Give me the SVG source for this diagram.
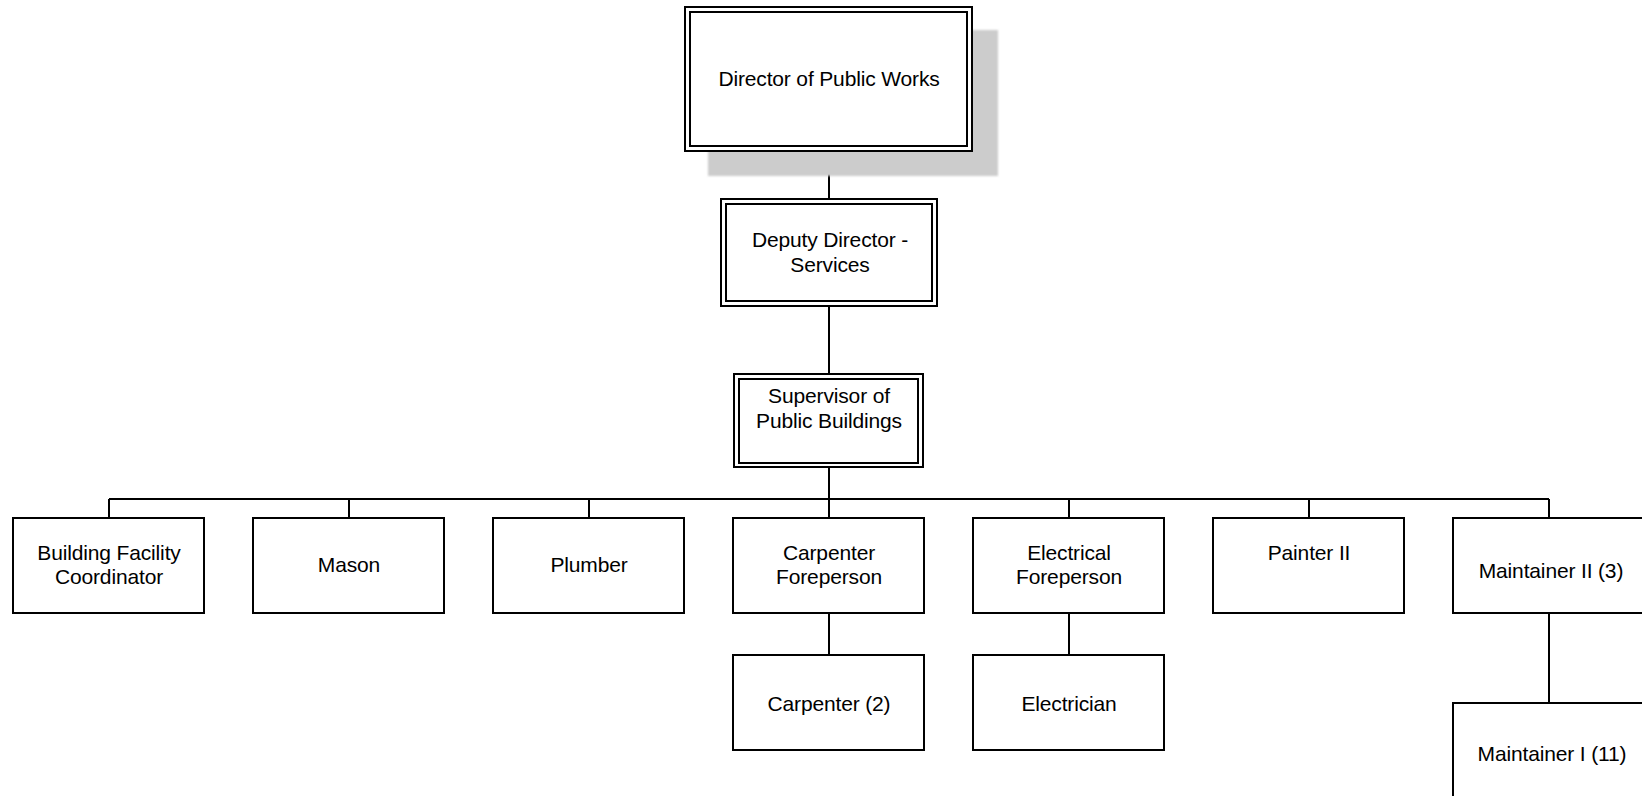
<svg xmlns="http://www.w3.org/2000/svg" width="1642" height="796" viewBox="0 0 1642 796">
  <style>
    .box { fill: #ffffff; stroke: #000000; stroke-width: 2; }
    .link { fill: none; stroke: #000000; stroke-width: 2; }
    .label { font-family: "Liberation Sans", Arial, sans-serif; font-size: 21px; letter-spacing: -0.15px; fill: #000000; text-anchor: middle; }
  </style>
  <defs>
    <filter id="soft" x="-5%" y="-5%" width="110%" height="110%">
      <feGaussianBlur stdDeviation="1.2"/>
    </filter>
  </defs>
  <rect x="0" y="0" width="1642" height="796" fill="#ffffff"/>

  <!-- reporting lines -->
  <g id="connectors">
    <path class="link" d="M829 151 V199"/>
    <path class="link" d="M829 306 V374"/>
    <path class="link" d="M829 467 V499"/>
    <path class="link" d="M109 499 H1549"/>
    <path class="link" d="M109 499 V518 M349 499 V518 M589 499 V518 M829 499 V518 M1069 499 V518 M1309 499 V518 M1549 499 V518"/>
    <path class="link" d="M829 613 V655"/>
    <path class="link" d="M1069 613 V655"/>
    <path class="link" d="M1549 613 V703"/>
  </g>

  <g id="director">
    <rect x="708" y="30" width="290" height="146" fill="#cccccc" filter="url(#soft)"/>
    <rect class="box" x="685" y="7" width="287" height="144"/>
    <rect class="box" x="690" y="12" width="277" height="134"/>
    <text class="label" x="829" y="86">Director of Public Works</text>
  </g>

  <g id="deputy-director">
    <rect class="box" x="721" y="199" width="216" height="107"/>
    <rect class="box" x="726" y="204" width="206" height="97"/>
    <text class="label" x="830" y="247">Deputy Director -</text>
    <text class="label" x="830" y="272">Services</text>
  </g>

  <g id="supervisor">
    <rect class="box" x="734" y="374" width="189" height="93"/>
    <rect class="box" x="739" y="379" width="179" height="84"/>
    <text class="label" x="829" y="403">Supervisor of</text>
    <text class="label" x="829" y="428">Public Buildings</text>
  </g>

  <g id="building-facility-coordinator">
    <rect class="box" x="13" y="518" width="191" height="95"/>
    <text class="label" x="109" y="559.5">Building Facility</text>
    <text class="label" x="109" y="583.5">Coordinator</text>
  </g>

  <g id="mason">
    <rect class="box" x="253" y="518" width="191" height="95"/>
    <text class="label" x="349" y="572">Mason</text>
  </g>

  <g id="plumber">
    <rect class="box" x="493" y="518" width="191" height="95"/>
    <text class="label" x="589" y="572">Plumber</text>
  </g>

  <g id="carpenter-foreperson">
    <rect class="box" x="733" y="518" width="191" height="95"/>
    <text class="label" x="829" y="559.5">Carpenter</text>
    <text class="label" x="829" y="583.5">Foreperson</text>
  </g>

  <g id="electrical-foreperson">
    <rect class="box" x="973" y="518" width="191" height="95"/>
    <text class="label" x="1069" y="559.5">Electrical</text>
    <text class="label" x="1069" y="583.5">Foreperson</text>
  </g>

  <g id="painter">
    <rect class="box" x="1213" y="518" width="191" height="95"/>
    <text class="label" x="1309" y="559.5">Painter II</text>
  </g>

  <g id="maintainer-2">
    <rect class="box" x="1453" y="518" width="191" height="95"/>
    <text class="label" x="1551" y="578">Maintainer II (3)</text>
  </g>

  <g id="carpenter">
    <rect class="box" x="733" y="655" width="191" height="95"/>
    <text class="label" x="829" y="710.5">Carpenter (2)</text>
  </g>

  <g id="electrician">
    <rect class="box" x="973" y="655" width="191" height="95"/>
    <text class="label" x="1069" y="710.5">Electrician</text>
  </g>

  <g id="maintainer-1">
    <rect class="box" x="1453" y="703" width="191" height="95"/>
    <text class="label" x="1552" y="760.5">Maintainer I (11)</text>
  </g>
</svg>
